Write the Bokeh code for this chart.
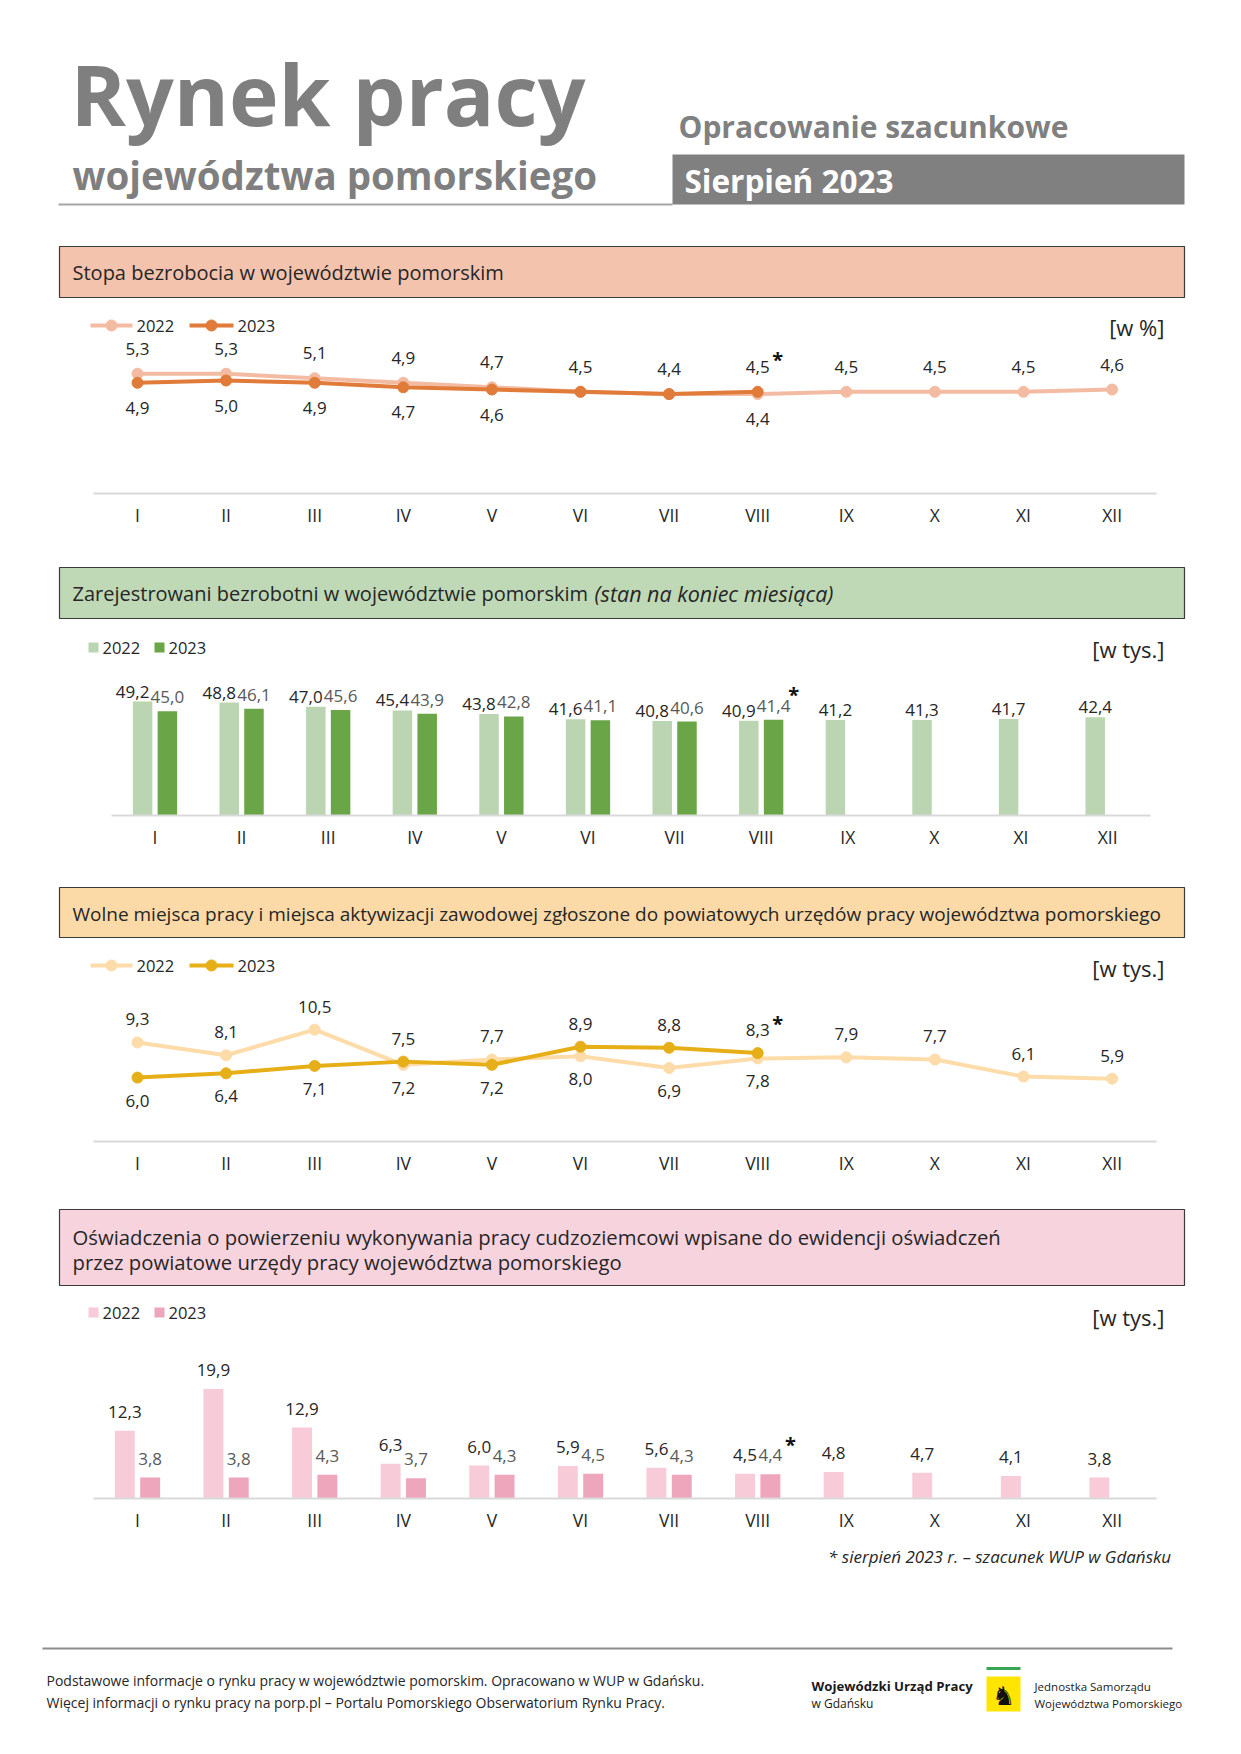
from bokeh.plotting import figure
from bokeh.models import Range1d, FixedTicker, ColumnDataSource
from bokeh.layouts import column
from bokeh.embed import file_html
from bokeh.resources import INLINE
from bokeh.core.properties import value

FONT = "Open Sans"

# ---------------- data ----------------
months = ["I", "II", "III", "IV", "V", "VI", "VII", "VIII", "IX", "X", "XI", "XII"]
years = ["2022", "2023"]

rate_2022 = [5.3, 5.3, 5.1, 4.9, 4.7, 4.5, 4.4, 4.4, 4.5, 4.5, 4.5, 4.6]
rate_2023 = [4.9, 5.0, 4.9, 4.7, 4.6, 4.5, 4.4, 4.5]

registered_2022 = [49.2, 48.8, 47.0, 45.4, 43.8, 41.6, 40.8, 40.9, 41.2, 41.3, 41.7, 42.4]
registered_2023 = [45.0, 46.1, 45.6, 43.9, 42.8, 41.1, 40.6, 41.4]

vacancies_2022 = [9.3, 8.1, 10.5, 7.2, 7.7, 8.0, 6.9, 7.8, 7.9, 7.7, 6.1, 5.9]
vacancies_2023 = [6.0, 6.4, 7.1, 7.5, 7.2, 8.9, 8.8, 8.3]

declarations_2022 = [12.3, 19.9, 12.9, 6.3, 6.0, 5.9, 5.6, 4.5, 4.8, 4.7, 4.1, 3.8]
declarations_2023 = [3.8, 3.8, 4.3, 3.7, 4.3, 4.5, 4.3, 4.4]

titles = [
    "Stopa bezrobocia w województwie pomorskim",
    "Zarejestrowani bezrobotni w województwie pomorskim",
    "Wolne miejsca pracy i miejsca aktywizacji zawodowej zgłoszone do powiatowych urzędów pracy województwa pomorskiego",
    "Oświadczenia o powierzeniu wykonywania pracy cudzoziemcowi wpisane do ewidencji oświadczeń",
]
title2_italic = "(stan na koniec miesiąca)"
title4_line2 = "przez powiatowe urzędy pracy województwa pomorskiego"
units = ["[w %]", "[w tys.]", "[w tys.]", "[w tys.]"]

PAGE_W = 1241
TXT = "#262626"
LBL = "17px"
BOX_L, BOX_R = 59, 1184
UNIT_R = 1164


def fmt(v):
    return f"{v:.1f}".replace(".", ",")


def page_fig(top, bottom):
    p = figure(width=PAGE_W, height=bottom - top,
               x_range=Range1d(0, PAGE_W), y_range=Range1d(bottom, top),
               output_backend="svg", toolbar_location=None, min_border=0,
               x_axis_location=None, y_axis_location=None)
    p.extra_x_ranges = {"px": Range1d(0, PAGE_W)}
    p.extra_y_ranges = {"py": Range1d(bottom, top)}
    p.outline_line_color = None
    p.grid.grid_line_color = None
    return p


def section_fig(top, axis_y, bottom, first_x, step, px_per_unit):
    frame_h = axis_y - top
    p = figure(width=PAGE_W, height=bottom - top,
               x_range=Range1d((0 - first_x) / step, (PAGE_W - first_x) / step),
               y_range=Range1d(0, frame_h / px_per_unit),
               output_backend="svg", toolbar_location=None,
               min_border_left=0, min_border_right=0, min_border_top=0,
               min_border_bottom=bottom - axis_y,
               y_axis_location=None)
    p.extra_x_ranges = {"px": Range1d(0, PAGE_W)}
    p.extra_y_ranges = {"py": Range1d(axis_y, top)}
    p.outline_line_color = None
    p.grid.grid_line_color = None
    ax = p.xaxis[0]
    ax.ticker = FixedTicker(ticks=list(range(len(months))))
    ax.major_label_overrides = {i: m for i, m in enumerate(months)}
    ax.bounds = (-0.5, len(months) - 0.5)
    ax.axis_line_color = "#D9D9D9"
    ax.axis_line_width = 2
    ax.major_tick_line_color = None
    ax.minor_tick_line_color = None
    ax.major_tick_out = 0
    ax.major_tick_in = 0
    ax.minor_tick_out = 0
    ax.major_label_standoff = 9
    ax.major_label_text_font = FONT
    ax.major_label_text_font_size = "17.5px"
    ax.major_label_text_color = TXT
    return p


def ptext(p, x, y, t, size, color=TXT, align="left", style="normal"):
    p.text(x=[x], y=[y], text=[t], x_range_name="px", y_range_name="py",
           text_font=value(FONT), text_font_size=size, text_color=color,
           text_align=align, text_baseline="middle", text_font_style=style)


def header_box(p, top, bottom, fill):
    p.quad(left=[BOX_L], right=[BOX_R], top=[top], bottom=[bottom], x_range_name="px",
           y_range_name="py", fill_color=fill, line_color="#3a3a3a", line_width=1.2)


def line_legend(p, y, c22, c23):
    for (x0, x1, xt), c, lab in (((90, 132, 136), c22, years[0]), ((189, 233, 237), c23, years[1])):
        p.line(x=[x0, x1], y=[y, y], x_range_name="px", y_range_name="py", line_color=c, line_width=4)
        p.scatter(x=[(x0 + x1) / 2], y=[y], x_range_name="px", y_range_name="py", size=11,
                  marker="circle", fill_color=c, line_color=c)
        ptext(p, xt, y, lab, "16.5px")


def bar_legend(p, y, c22, c23):
    for xs, xt, c, lab in ((88, 102, c22, years[0]), (154, 168, c23, years[1])):
        p.quad(left=[xs], right=[xs + 10], top=[y - 5], bottom=[y + 5], x_range_name="px",
               y_range_name="py", fill_color=c, line_color=None)
        ptext(p, xt, y, lab, "16.5px")


def line_chart(p, v22, v23, c22, c23, off=24):
    x22 = list(range(len(v22)))
    x23 = list(range(len(v23)))
    p.line(x=x22, y=v22, line_color=c22, line_width=4)
    p.scatter(x=x22, y=v22, size=11, marker="circle", fill_color=c22, line_color=c22)
    p.line(x=x23, y=v23, line_color=c23, line_width=4)
    p.scatter(x=x23, y=v23, size=11, marker="circle", fill_color=c23, line_color=c23)
    lx, ly, lt, lo = [], [], [], []
    for i, a in enumerate(v22):
        if i < len(v23):
            b = v23[i]
            if abs(a - b) < 1e-9:
                lx.append(i); ly.append(b); lt.append(fmt(b)); lo.append(-off)
            else:
                hi, lo_v = max(a, b), min(a, b)
                lx += [i, i]; ly += [hi, lo_v]; lt += [fmt(hi), fmt(lo_v)]; lo += [-off, off]
        else:
            lx.append(i); ly.append(a); lt.append(fmt(a)); lo.append(-off)
    src = ColumnDataSource(dict(x=lx, y=ly, t=lt, o=lo))
    p.text(x="x", y="y", text="t", y_offset="o", source=src, text_font=value(FONT),
           text_font_size=LBL, text_color=TXT, text_align="center", text_baseline="middle")
    # estimate marker for last 2023 value
    k = len(v23) - 1
    sign = -1 if v23[k] >= v22[k] else 1
    p.text(x=[k], y=[v23[k]], text=["*"], x_offset=20, y_offset=sign * off - 7,
           text_font=value(FONT), text_font_size="20px", text_font_style="bold",
           text_color="#111111", text_align="center", text_baseline="middle")


def bar_chart(p, v22, v23, c22, c23, gap22, gap23, shift22, col23):
    d, w = 0.143, 0.225
    x22 = [i - d for i in range(len(v22))]
    x23 = [i + d for i in range(len(v23))]
    p.vbar(x=x22, top=v22, width=w, fill_color=c22, line_color=None)
    p.vbar(x=x23, top=v23, width=w, fill_color=c23, line_color=None)
    xo = [shift22 if i < len(v23) else 0 for i in range(len(v22))]
    s22 = ColumnDataSource(dict(x=x22, y=v22, t=[fmt(v) for v in v22], xo=xo))
    p.text(x="x", y="y", text="t", x_offset="xo", y_offset=-gap22, source=s22,
           text_font=value(FONT), text_font_size=LBL, text_color=TXT,
           text_align="center", text_baseline="bottom")
    s23 = ColumnDataSource(dict(x=x23, y=v23, t=[fmt(v) for v in v23]))
    p.text(x="x", y="y", text="t", y_offset=-gap23, source=s23,
           text_font=value(FONT), text_font_size=LBL, text_color=col23,
           text_align="center", text_baseline="bottom")
    k = len(v23) - 1
    p.text(x=[x23[k]], y=[v23[k]], text=["*"], x_offset=20, y_offset=-gap23 - 17,
           text_font=value(FONT), text_font_size="20px", text_font_style="bold",
           text_color="#111111", text_align="center", text_baseline="middle")


# ---------------- title block ----------------
f0 = page_fig(0, 236)
ptext(f0, 70, 93, "Rynek pracy", "84px", color="#7F7F7F", style="bold")
ptext(f0, 72, 174, "województwa pomorskiego", "38.5px", color="#7F7F7F", style="bold")
f0.line(x=[58, 672], y=[204, 204], line_color="#A6A6A6", line_width=2)
ptext(f0, 678, 126, "Opracowanie szacunkowe", "30px", color="#808080", style="bold")
f0.quad(left=[672], right=[1184], top=[154], bottom=[204], fill_color="#808080", line_color=None)
ptext(f0, 684, 180, "Sierpień 2023", "31.5px", color="white", style="bold")

# ---------------- section 1 ----------------
s1 = section_fig(236, 493, 557, 137, 88.6, 22.6)
header_box(s1, 246, 297, "#F4C3AE")
ptext(s1, 72, 272, titles[0], "20px")
line_legend(s1, 325, "#F4BBA3", "#E07B39")
ptext(s1, UNIT_R, 326, units[0], "22px", align="right")
line_chart(s1, rate_2022, rate_2023, "#F4BBA3", "#E07B39", off=25)

# ---------------- section 2 ----------------
s2 = section_fig(557, 815, 877, 154.5, 86.6, 2.315)
header_box(s2, 567, 618, "#BFD8B5")
ptext(s2, 72, 593, titles[1], "20px")
ptext(s2, 594, 593, title2_italic, "21.5px", style="italic")
bar_legend(s2, 647, "#BBD5B3", "#6AA547")
ptext(s2, UNIT_R, 648, units[1], "22px", align="right")
bar_chart(s2, registered_2022, registered_2023, "#BBD5B3", "#6AA547", 4, 8, -10, "#595959")

# ---------------- section 3 ----------------
s3 = section_fig(877, 1141, 1199, 137, 88.6, 10.65)
header_box(s3, 887, 937, "#FCDAA8")
ptext(s3, 72, 913, titles[2], "19px")
line_legend(s3, 965, "#FDDCAA", "#E6AE17")
ptext(s3, UNIT_R, 967, units[2], "22px", align="right")
line_chart(s3, vacancies_2022, vacancies_2023, "#FDDCAA", "#E6AE17", off=23)

# ---------------- section 4 ----------------
s4 = section_fig(1199, 1498, 1540, 137, 88.6, 5.5)
header_box(s4, 1209, 1285, "#F7D3DE")
ptext(s4, 72, 1236, titles[3], "20.3px")
ptext(s4, 72, 1261, title4_line2, "20.3px")
bar_legend(s4, 1312, "#F7CCD8", "#EEA6BC")
ptext(s4, UNIT_R, 1316, units[3], "22px", align="right")
bar_chart(s4, declarations_2022, declarations_2023, "#F7CCD8", "#EEA6BC", 13, 13, 0, "#595959")

# ---------------- footer ----------------
f5 = page_fig(1540, 1754)
ptext(f5, 1175, 1556, "* sierpień  2023 r. – szacunek WUP w Gdańsku", "17px", align="right", style="italic")
f5.line(x=[42, 1172], y=[1648, 1648], line_color="#8C8C8C", line_width=2)
ptext(f5, 46, 1680, "Podstawowe informacje o rynku pracy w województwie pomorskim. Opracowano w WUP w Gdańsku.", "14px")
ptext(f5, 46, 1702, "Więcej informacji o rynku pracy na porp.pl – Portalu Pomorskiego Obserwatorium Rynku Pracy.", "14px")
ptext(f5, 811, 1685, "Wojewódzki Urząd Pracy", "13.2px", color="#1a1a1a", style="bold")
ptext(f5, 811, 1703, "w Gdańsku", "12px", color="#1a1a1a")
f5.line(x=[986, 1020], y=[1668, 1668], line_color="#3AA655", line_width=3)
f5.quad(left=[986], right=[1020], top=[1676], bottom=[1711], fill_color="#FFE500", line_color=None)
ptext(f5, 1003, 1694, "♞", "26px", color="#111111", align="center")
ptext(f5, 1034, 1686, "Jednostka Samorządu", "11.5px", color="#1a1a1a")
ptext(f5, 1034, 1703, "Województwa Pomorskiego", "11.5px", color="#1a1a1a")

layout = column(f0, s1, s2, s3, s4, f5, spacing=0)
open("out.html", "w").write(file_html(layout, INLINE))
